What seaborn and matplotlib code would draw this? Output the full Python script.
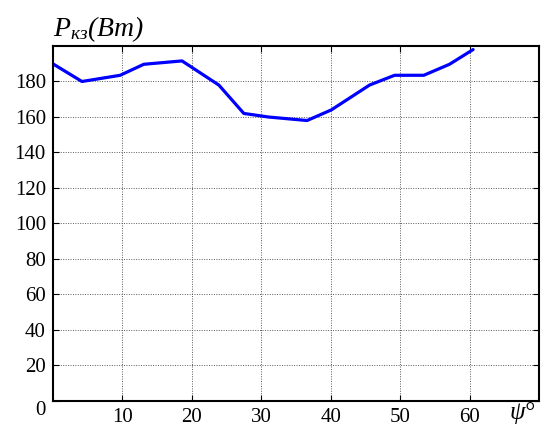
import matplotlib
matplotlib.use("Agg")
import matplotlib.pyplot as plt
import seaborn as sns

# angle psi (deg) and short-circuit power (W)
psi = [0, 4.2, 9.7, 13.1, 18.6, 23.9, 27.5, 31, 36.6, 40.1, 45.6, 49.2, 53.4, 57.1, 60.5]
p_kz = [190, 180, 183.5, 189.7, 191.6, 178, 162, 160, 158, 164, 178, 183.5, 183.5, 189.7, 198]

x_ticks = [10, 20, 30, 40, 50, 60]
y_ticks = list(range(0, 181, 20))

sns.set_style("ticks")
plt.rcParams["font.family"] = ["Liberation Serif", "DejaVu Serif"]
plt.rcParams["mathtext.fontset"] = "custom"
plt.rcParams["mathtext.rm"] = "Liberation Serif:italic"
plt.rcParams["mathtext.it"] = "Liberation Serif:italic"

fig = plt.figure(figsize=(5.44, 4.26), dpi=100)
ax = fig.add_axes([0.097, 0.059, 0.894, 0.833])

sns.lineplot(x=psi, y=p_kz, ax=ax, color="#0000ff", linewidth=2.3, sort=False)

ax.set_xlim(0, 70)
ax.set_ylim(0, 200)
ax.set_xticks(x_ticks)
ax.set_yticks(y_ticks)
ax.tick_params(direction="in", top=True, right=True, length=4, width=0.8,
               labelsize=15, colors="black", pad=5)
ax.grid(True, linestyle=(0, (1, 1.5)), color="0.35", linewidth=0.7)
for s in ax.spines.values():
    s.set_linewidth(1.5)
    s.set_color("black")

yl = ax.get_yticklabels()
yl[0].set_va("top")

ax.text(0.0, 1.005, r"$\mathit{P_{кз}(Вт)}$", transform=ax.transAxes,
        fontsize=20, ha="left", va="bottom", color="black")
ax.text(0.94, -0.066, "ψ°", transform=ax.transAxes, fontsize=18,
        ha="left", va="bottom", style="italic", color="black")

fig.savefig("out.png", dpi=100)
